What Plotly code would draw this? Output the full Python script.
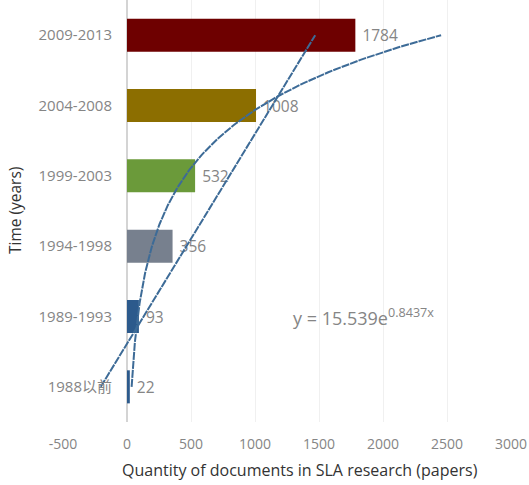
import numpy as np
import plotly.graph_objects as go

categories = ["1988以前", "1989-1993", "1994-1998", "1999-2003", "2004-2008", "2009-2013"]
papers = [22, 93, 356, 532, 1008, 1784]
bar_colors = ["#2C5A8C", "#2C5A8C", "#77808E", "#6B9A3A", "#8C6E00", "#6E0000"]
x_ticks = [-500, 0, 500, 1000, 1500, 2000, 2500, 3000]
x_tick_labels = ["-500", "0", "500", "1000", "1500", "2000", "2500", "3000"]

font_family = "Open Sans, Noto Sans CJK SC, sans-serif"
gray = "#858585"
line_color = "#3D6B97"

idx = np.arange(len(categories))          # 0..5 category positions
k = idx + 1                               # Excel trendline x (1..6)
vals = np.array(papers, dtype=float)

# linear trendline
slope, intercept = np.polyfit(k, vals, 1)
# exponential trendline (fit on log values)
b_exp, ln_a = np.polyfit(k, np.log(vals), 1)
a_exp = np.exp(ln_a)

kk = np.linspace(1, 6, 200)
lin_x = intercept + slope * kk
exp_x = a_exp * np.exp(b_exp * kk)

fig = go.Figure()
fig.add_trace(go.Bar(
    y=idx, x=papers, orientation="h", width=0.47,
    marker=dict(color=bar_colors, line=dict(width=0)),
    text=[str(v) for v in papers], texttemplate=" %{text}",
    textposition="outside", cliponaxis=False,
    textfont=dict(family=font_family, size=15.5, color=gray),
    showlegend=False, hoverinfo="skip",
))
fig.add_trace(go.Scatter(
    x=exp_x, y=kk - 1, mode="lines",
    line=dict(color=line_color, width=2, dash="8px,1px"),
    showlegend=False, hoverinfo="skip",
))
fig.add_trace(go.Scatter(
    x=lin_x, y=kk - 1, mode="lines",
    line=dict(color=line_color, width=2, dash="8px,1px"),
    showlegend=False, hoverinfo="skip",
))

eq_text = f"y = {a_exp:.3f}e<sup>{b_exp:.4f}x</sup>"
fig.add_annotation(
    x=1280, y=1, xref="x", yref="y", text=eq_text, showarrow=False,
    xanchor="left", yanchor="middle",
    font=dict(family=font_family, size=18, color=gray),
)
fig.add_annotation(
    x=-0.107, y=0.5, xref="paper", yref="paper", text="Time (years)",
    textangle=-90, showarrow=False, xanchor="center", yanchor="middle",
    font=dict(family=font_family, size=15.5, color="#333333"),
)
fig.add_annotation(
    x=0.53, y=-0.114, xref="paper", yref="paper",
    text="Quantity of documents in SLA research (papers)",
    showarrow=False, xanchor="center", yanchor="middle",
    font=dict(family=font_family, size=16, color="#333333"),
)

zero_pos = (0 - (-500)) / 3500.0

fig.update_layout(
    width=529, height=485,
    margin=dict(l=63, r=18, t=0, b=63),
    paper_bgcolor="white", plot_bgcolor="white",
    font=dict(family=font_family),
    bargap=0.5,
    xaxis=dict(
        range=[-500, 3000], tickvals=x_ticks, ticktext=x_tick_labels,
        showgrid=True, gridcolor="#f0f0f0", gridwidth=1,
        zeroline=True, zerolinecolor="#d4d4d4", zerolinewidth=2,
        showline=False, ticks="", ticklabelstandoff=12,
        tickfont=dict(family=font_family, size=14, color=gray),
        automargin=False, fixedrange=True,
    ),
    yaxis=dict(
        range=[-0.5, 5.5], tickvals=list(idx), ticktext=categories,
        showgrid=False, zeroline=False, showline=False, ticks="",
        anchor="free", position=zero_pos, ticklabelstandoff=15,
        tickfont=dict(family=font_family, size=15, color=gray),
        automargin=False, fixedrange=True,
    ),
)

fig.write_html("out.html")
